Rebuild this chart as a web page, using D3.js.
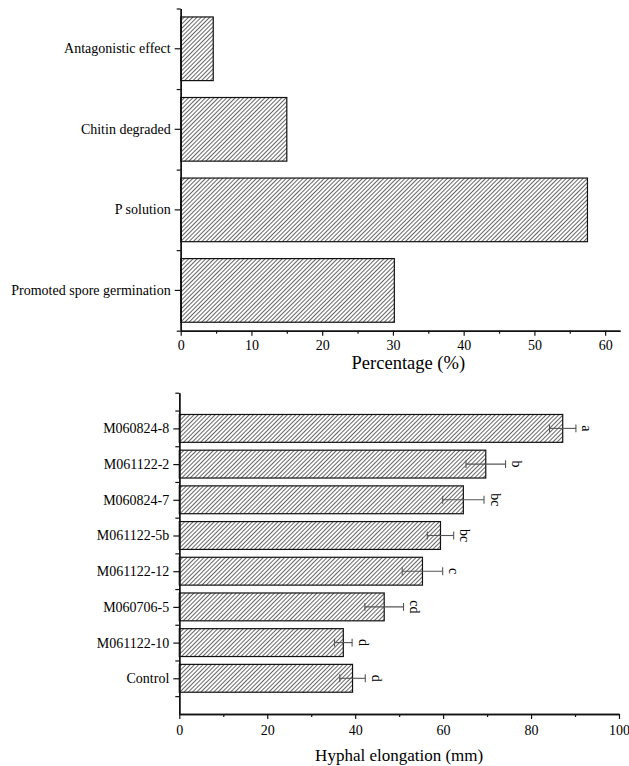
<!DOCTYPE html>
<html>
<head>
<meta charset="utf-8">
<script src="https://cdn.jsdelivr.net/npm/d3@7"></script>
<style>
  html, body { margin: 0; padding: 0; background: #fff; }
  svg { display: block; }
  svg text { font-family: "Liberation Serif", Tinos, "Times New Roman", Times, "Nimbus Roman", "DejaVu Serif", serif !important; fill: #000; }
</style>
</head>
<body>
<svg id="chart" width="629" height="766"></svg>
<script>
// ---- data: top panel ----
const topCategories = ["Antagonistic effect", "Chitin degraded", "P solution", "Promoted spore germination"];
const topValues = [4.6, 15.0, 57.5, 30.2];
const topTicks = [0, 10, 20, 30, 40, 50, 60];
const topTitle = "Percentage (%)";

// ---- data: bottom panel ----
const bottomCategories = ["Control", "M061122-10", "M060706-5", "M061122-12", "M061122-5b", "M060824-7", "M061122-2", "M060824-8"];
const bottomMeans = [39.4, 37.3, 46.6, 55.3, 59.4, 64.6, 69.7, 87.2];
const bottomErrors = [2.9, 2.0, 4.4, 4.6, 3.0, 4.7, 4.5, 3.0];
const bottomLetters = ["d", "d", "cd", "c", "bc", "bc", "b", "a"];
const bottomTicks = [0, 20, 40, 60, 80, 100];
const bottomTitle = "Hyphal elongation (mm)";

const FONT = "'Liberation Serif', Tinos, 'Times New Roman', Times, 'DejaVu Serif', serif";
const svg = d3.select("#chart").attr("font-family", FONT);

// hatch pattern
const defs = svg.append("defs");
defs.append("pattern")
  .attr("id", "hatch")
  .attr("patternUnits", "userSpaceOnUse")
  .attr("width", 3.0).attr("height", 10)
  .attr("patternTransform", "rotate(45)")
  .append("line")
  .attr("x1", 1.5).attr("y1", 0).attr("x2", 1.5).attr("y2", 10)
  .attr("stroke", "#555").attr("stroke-width", 0.9);

function styleAxis(g, width) {
  g.attr("font-family", FONT);
  g.selectAll("path.domain").attr("stroke", "#111").attr("stroke-width", width);
  g.selectAll(".tick line").attr("stroke", "#111").attr("stroke-width", 1.2);
  g.selectAll(".tick text").attr("font-size", 14).attr("fill", "#000");
}

// ================= TOP PANEL =================
const tx = d3.scaleLinear().domain([0, 62.1]).range([180.7, 620]);
const ty = d3.scaleBand().domain(topCategories).range([8.5, 330.7]).padding(0);
const tyLin = d3.scaleLinear().domain([0, topCategories.length]).range([330.7, 8.5]);
const topBarFrac = 0.79;

const topG = svg.append("g");
topG.selectAll("rect.bar").data(topCategories).enter().append("rect")
  .attr("class", "bar")
  .attr("x", tx(0))
  .attr("y", d => ty(d) + ty.bandwidth() * (1 - topBarFrac) / 2)
  .attr("width", (d, i) => tx(topValues[i]) - tx(0))
  .attr("height", ty.bandwidth() * topBarFrac)
  .attr("fill", "url(#hatch)")
  .attr("stroke", "#111").attr("stroke-width", 1.2);

// x axis (minor then major)
const txMinor = topG.append("g").attr("transform", `translate(0,${tyLin(0)})`)
  .call(d3.axisBottom(tx).tickValues(d3.range(5, 60, 10)).tickSize(3).tickSizeOuter(0).tickFormat(""));
styleAxis(txMinor, 1.6);
const txMajor = topG.append("g").attr("transform", `translate(0,${tyLin(0)})`)
  .call(d3.axisBottom(tx).tickValues(topTicks).tickSize(5).tickSizeOuter(0).tickPadding(4));
styleAxis(txMajor, 1.6);

// y axis
const tyMinor = topG.append("g").attr("transform", `translate(${tx(0)},0)`)
  .call(d3.axisLeft(tyLin).tickValues(d3.range(0, topCategories.length + 1)).tickSize(4).tickSizeOuter(0).tickFormat(""));
styleAxis(tyMinor, 1.4);
const tyMajor = topG.append("g").attr("transform", `translate(${tx(0)},0)`)
  .call(d3.axisLeft(ty).tickSize(6).tickSizeOuter(0).tickPadding(4));
styleAxis(tyMajor, 1.4);

topG.append("text")
  .attr("x", (tx(0) + tx(62.1)) / 2 + 8)
  .attr("y", 369)
  .attr("text-anchor", "middle")
  .attr("font-size", 18.5)
  .text(topTitle);

// ================= BOTTOM PANEL =================
const bx = d3.scaleLinear().domain([0, 100]).range([179.3, 619]);
const by = d3.scaleLinear().domain([0, 9]).range([714, 392.7]);
const barHalf = 0.39;
const capHalf = 0.11;

const botG = svg.append("g");
const rows = bottomCategories.map((c, i) => ({ c, pos: i + 1, m: bottomMeans[i], e: bottomErrors[i], l: bottomLetters[i] }));

botG.selectAll("rect.bar").data(rows).enter().append("rect")
  .attr("class", "bar")
  .attr("x", bx(0))
  .attr("y", d => by(d.pos + barHalf))
  .attr("width", d => bx(d.m) - bx(0))
  .attr("height", d => by(d.pos - barHalf) - by(d.pos + barHalf))
  .attr("fill", "url(#hatch)")
  .attr("stroke", "#111").attr("stroke-width", 1.2);

// error bars
const eb = botG.selectAll("g.err").data(rows).enter().append("g").attr("class", "err")
  .attr("stroke", "#555").attr("stroke-width", 1.1);
eb.append("line")
  .attr("x1", d => bx(d.m - d.e)).attr("x2", d => bx(d.m + d.e))
  .attr("y1", d => by(d.pos)).attr("y2", d => by(d.pos));
eb.append("line")
  .attr("x1", d => bx(d.m - d.e)).attr("x2", d => bx(d.m - d.e))
  .attr("y1", d => by(d.pos + capHalf)).attr("y2", d => by(d.pos - capHalf));
eb.append("line")
  .attr("x1", d => bx(d.m + d.e)).attr("x2", d => bx(d.m + d.e))
  .attr("y1", d => by(d.pos + capHalf)).attr("y2", d => by(d.pos - capHalf));

// significance letters (rotated)
botG.selectAll("text.letter").data(rows).enter().append("text")
  .attr("class", "letter")
  .attr("font-size", 14)
  .attr("text-anchor", "middle")
  .attr("transform", d => `translate(${bx(d.m + d.e) + 6.5},${by(d.pos)}) rotate(90)`)
  .text(d => d.l);

// x axis
const bxMinor = botG.append("g").attr("transform", `translate(0,${by(0)})`)
  .call(d3.axisBottom(bx).tickValues(d3.range(10, 100, 20)).tickSize(3).tickSizeOuter(0).tickFormat(""));
styleAxis(bxMinor, 1.6);
const bxMajor = botG.append("g").attr("transform", `translate(0,${by(0)})`)
  .call(d3.axisBottom(bx).tickValues(bottomTicks).tickSize(5).tickSizeOuter(0).tickPadding(6));
styleAxis(bxMajor, 1.6);

// y axis
const byMinor = botG.append("g").attr("transform", `translate(${bx(0)},0)`)
  .call(d3.axisLeft(by).tickValues(d3.range(0.5, 9.5, 1).concat([9])).tickSize(4).tickSizeOuter(0).tickFormat(""));
styleAxis(byMinor, 1.4);
const byMajor = botG.append("g").attr("transform", `translate(${bx(0)},0)`)
  .call(d3.axisLeft(by).tickValues(rows.map(r => r.pos)).tickSize(6).tickSizeOuter(0).tickPadding(4)
    .tickFormat(v => bottomCategories[v - 1]));
styleAxis(byMajor, 1.4);

botG.append("text")
  .attr("x", (bx(0) + bx(100)) / 2)
  .attr("y", 761)
  .attr("text-anchor", "middle")
  .attr("font-size", 17)
  .text(bottomTitle);
</script>
</body>
</html>
